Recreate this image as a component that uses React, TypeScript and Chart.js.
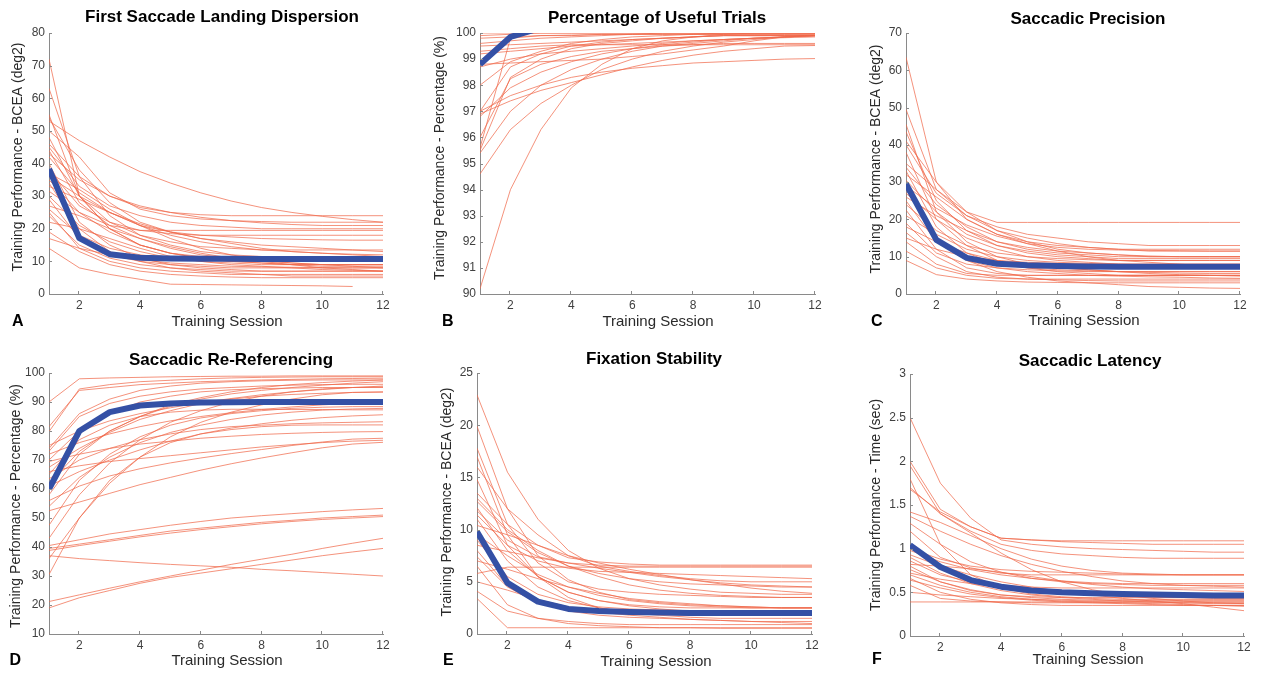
import React, { useEffect, useRef } from "react";
import { Chart, registerables } from "chart.js";

Chart.register(...registerables);
Chart.defaults.font.family = '"Liberation Sans", Arial, sans-serif';

// ---------------- DATA ----------------
const sessions = [1, 2, 3, 4, 5, 6, 7, 8, 9, 10, 11, 12];
const xTickValues = [2, 4, 6, 8, 10, 12];

// A: First Saccade Landing Dispersion (BCEA deg2)
const dispersionMean = [38.3, 17.1, 12.2, 11.1, 10.9, 10.8, 10.8, 10.7, 10.7, 10.7, 10.7, 10.7];
const dispersionSubjects: (number | null)[][] = [
  [72, 30, 20, 15, 12.5, 11, 10, 9.5, 9, 9, 9, 9],
  [63, 36, 24, 18, 15, 13, 12, 11.5, 11, 11, 11, 11],
  [55, 30, 22, 18, 16, 14.5, 14, 13.5, 13.5, 13.5, 13.5, 13.5],
  [54, 38, 28, 22, 19, 17, 16, 15, 14.5, 14, 13.5, 13],
  [53, 47, 42, 37.5, 34, 31, 28.5, 26.5, 25, 23.8, 22.8, 22],
  [50, 42, 31, 26, 24, 23, 22.5, 22.2, 22, 22, 22, 22],
  [46, 36, 30, 26.5, 25, 24.3, 24, 24, 24, 24, 24, 24],
  [45, 33, 27, 24, 22, 21, 20.5, 20, 20, 20, 20, 20],
  [44, 28, 21, 17, 14, 12, 11, 10, 9.5, 9, 9, 9],
  [42, 31, 25, 21, 19, 18, 17.5, 17, 16.8, 16.6, 16.5, 16.5],
  [40, 22, 15, 11, 9, 8, 7.5, 7, 7, 7, 7, 7],
  [38, 27, 22, 19.5, 18.5, 18, 18, 18, 18, 18, 18, 18],
  [37, 32, 26, 21, 17, 14, 12, 10.5, 9.5, 9, 8.5, 8],
  [35, 25, 19, 15, 12.5, 11, 10, 9.5, 9, 8.5, 8.5, 8.5],
  [34, 20, 13, 10, 8, 7, 6.5, 6, 6, 6, 6, 6],
  [33, 29, 25, 21.5, 19, 17, 15.5, 14, 13, 12.5, 12, 11.5],
  [31.5, 25, 21, 19.5, 19.5, 19.5, 19.5, 19.5, 19.5, 19.5, 19.5, 19.5],
  [30, 21, 16, 13, 11, 10, 9.5, 9, 9, 9, 9, 9],
  [29, 17, 12, 10, 9, 8.5, 8, 8, 8, 8, 8, 8],
  [27, 24, 20, 17, 14.5, 12.5, 11, 10, 9, 8, 7.5, 7],
  [26, 18, 14, 12, 11, 10.5, 10, 10, 10, 10, 10, 10],
  [25, 14, 10, 8, 7, 6.5, 6, 6, 5.5, 5.5, 5.5, 5.5],
  [24, 15, 11, 9, 8, 7.5, 7, 7, 7, 7, 7, 7],
  [22, 20, 17, 14, 11.5, 10, 9, 8.5, 8, 7.5, 7.3, 7],
  [19, 13, 9, 7, 6, 5.5, 5.2, 5, 5, 5, 5, 5],
  [17, 14, 12, 10.5, 9.5, 9, 8.5, 8.3, 8.2, 8.1, 8, 8],
  [14, 8, 6, 4.5, 3, 2.9, 2.8, 2.7, 2.6, 2.5, 2.3, null],
  [43, 35, 30, 27, 25, 23.5, 22.5, 21.8, 21.3, 21, 21, 21],
  [36, 30, 25, 21, 18, 16, 14.5, 13.5, 13, 12.5, 12.2, 12],
  [48, 30, 20, 15, 12.5, 11.5, 11, 10.8, 10.7, 10.6, 10.5, 10.5],
];

// B: Percentage of Useful Trials (%)
const usefulMean = [98.8, 99.85, 100.2, 100.3, 100.35, 100.4, 100.4, 100.4, 100.4, 100.4, 100.4, 100.4];
const usefulSubjects: number[][] = [
  [90.2, 94.0, 96.3, 97.9, 98.8, 99.4, 99.7, 99.85, 99.95, 100, 100, 100],
  [94.6, 96.3, 97.3, 98.0, 98.6, 99.0, 99.3, 99.5, 99.65, 99.75, 99.85, 99.9],
  [95.4, 97.0, 98.0, 98.6, 99.0, 99.3, 99.5, 99.6, 99.7, 99.8, 99.85, 99.9],
  [95.5, 98.3, 99.0, 99.4, 99.6, 99.7, 99.8, 99.85, 99.9, 99.9, 99.9, 99.9],
  [95.6, 99.8, 99.9, 99.9, 99.95, 99.95, 99.95, 99.95, 99.95, 99.95, 99.95, 99.95],
  [96.8, 97.9, 98.5, 98.9, 99.2, 99.4, 99.55, 99.65, 99.75, 99.8, 99.85, 99.9],
  [97.0, 97.6, 98.0, 98.3, 98.5, 98.65, 98.75, 98.85, 98.9, 98.95, 99.0, 99.02],
  [96.9, 97.4, 97.8, 98.1, 98.4, 98.7, 98.95, 99.15, 99.3, 99.4, 99.5, 99.52],
  [98.0, 98.9, 99.3, 99.6, 99.75, 99.85, 99.9, 99.95, 100, 100, 100, 100],
  [98.7, 99.0, 99.2, 99.3, 99.4, 99.5, 99.6, 99.7, 99.75, 99.8, 99.85, 99.9],
  [98.8, 98.85, 98.9, 98.95, 99.0, 99.1, 99.2, 99.35, 99.5, 99.7, 99.85, 99.9],
  [99.2, 99.3, 99.4, 99.5, 99.55, 99.6, 99.65, 99.7, 99.75, 99.8, 99.82, 99.85],
  [99.5, 99.55, 99.6, 99.65, 99.7, 99.75, 99.8, 99.85, 99.9, 99.9, 99.9, 99.9],
  [99.3, 99.4, 99.5, 99.55, 99.55, 99.55, 99.55, 99.55, 99.55, 99.55, 99.55, 99.55],
  [99.8, 99.85, 99.9, 99.92, 99.94, 99.95, 99.95, 99.95, 99.95, 99.95, 99.95, 99.95],
  [99.9, 99.95, 100, 100, 100, 100, 100, 100, 100, 100, 100, 100],
  [100, 100, 100, 100, 100, 100, 100, 100, 100, 100, 100, 100],
  [99.6, 99.7, 99.8, 99.85, 99.9, 99.95, 100, 100, 100, 100, 100, 100],
  [96.0, 98.25, 98.8, 99.1, 99.3, 99.4, 99.5, 99.55, 99.6, 99.6, 99.6, 99.6],
  [97.0, 98.7, 99.2, 99.5, 99.65, 99.75, 99.8, 99.85, 99.9, 99.9, 99.9, 99.9],
];

// C: Saccadic Precision (BCEA deg2)
const precisionMean = [29.5, 14.5, 9.7, 8.1, 7.7, 7.5, 7.4, 7.3, 7.3, 7.3, 7.3, 7.3];
const precisionSubjects: number[][] = [
  [63.5, 30, 20, 16, 14, 13, 12.5, 12, 12, 12, 12, 12],
  [49.5, 28, 21, 18, 16, 15, 14, 13.5, 13, 13, 13, 13],
  [45.5, 22, 14, 10, 8, 7, 6.5, 6, 5.8, 5.6, 5.5, 5.5],
  [43.5, 25, 17, 13, 11, 10, 9.5, 9, 9, 9, 9, 9],
  [40, 27, 21, 17, 15, 13.5, 12.5, 12, 11.5, 11.5, 11.5, 11.5],
  [38, 20, 13, 9, 7, 6, 5.5, 5, 5, 5, 5, 5],
  [35, 28, 22, 19.2, 19.2, 19.2, 19.2, 19.2, 19.2, 19.2, 19.2, 19.2],
  [34, 24, 18, 14, 12, 11, 10.5, 10, 10, 10, 10, 10],
  [33, 18, 11, 8, 7, 6.5, 6.2, 6, 6, 6, 6, 6],
  [32, 26, 20, 16, 13.5, 11.5, 10, 9, 8.5, 8, 7.5, 7.2],
  [30.5, 22, 16, 13, 11.5, 10.5, 10, 9.5, 9.5, 9.5, 9.5, 9.5],
  [28, 15, 9, 6, 4.5, 3.5, 3, 2.5, 2, 1.8, 1.6, 1.5],
  [27, 20, 15, 12, 10, 9, 8.5, 8, 7.8, 7.6, 7.5, 7.5],
  [26, 21, 17, 14, 12.5, 11.5, 11, 10.5, 10.2, 10, 10, 10],
  [25, 14, 9, 7, 6, 5.5, 5, 4.8, 4.6, 4.5, 4.3, 4.2],
  [24, 17, 13, 11, 10, 9.5, 9.2, 9, 9, 9, 9, 9],
  [22.5, 12, 7, 5.5, 5, 5, 5, 5, 5, 5, 5, 5],
  [21, 16, 12, 10, 9, 8.5, 8.2, 8, 8, 8, 8, 8],
  [19, 11, 8, 7, 6.5, 6.2, 6, 6, 6, 6, 6, 6],
  [18, 14, 11, 9, 8, 7, 6.5, 6, 5.5, 5.2, 5, 4.8],
  [16.5, 10, 6, 4.5, 4, 3.8, 3.6, 3.5, 3.5, 3.5, 3.5, 3.5],
  [15, 12, 10, 9, 8.5, 8.2, 8, 8, 8, 8, 8, 8],
  [14, 8, 5.5, 5, 5, 5, 5, 5, 5, 5, 5, 5],
  [11.5, 7, 5, 4.2, 4, 4, 4, 4, 4, 4, 4, 4],
  [9, 5.2, 4, 3.5, 3.2, 3.1, 3, 3, 3, 3, 3, 3],
  [29, 23, 18.5, 15.5, 13.5, 12.5, 12, 11.8, 11.7, 11.6, 11.5, 11.5],
  [41, 30, 22, 17, 14, 12, 11, 10.5, 10, 10, 10, 10],
];

// D: Saccadic Re-Referencing (%)
const rereferencingMean = [60, 80, 86.5, 88.8, 89.5, 89.8, 89.9, 90, 90, 90, 90, 90];
const rereferencingSubjects: number[][] = [
  [39.5, 41, 42.5, 44, 45.5, 46.5, 47.5, 48.5, 49.2, 50, 50.5, 51],
  [40.5, 42.5, 44.5, 46, 47.5, 48.8, 50, 50.8, 51.5, 52.2, 52.8, 53.3],
  [38.8, 40.5, 42, 43.5, 44.8, 46, 47, 48, 48.8, 49.5, 50, 50.5],
  [37, 36, 35.3, 34.6, 34, 33.5, 33, 32.3, 31.8, 31.2, 30.6, 30],
  [21.2, 23.5, 25.8, 28, 30, 32, 34, 35.8, 37.5, 39.5, 41.3, 43],
  [19, 22.5, 25, 27.5, 29.5, 31, 32.5, 34, 35.5, 37, 38.3, 39.5],
  [90, 98, 98.3, 98.5, 98.7, 98.8, 98.9, 98.9, 99, 99, 99, 99],
  [81.5, 94, 95, 96, 96.5, 97, 97.3, 97.6, 97.8, 98, 98.1, 98.2],
  [79.8, 94.5, 96, 97, 97.5, 98, 98.3, 98.5, 98.6, 98.7, 98.7, 98.7],
  [74, 86, 91, 94, 95.5, 96.5, 97, 97.3, 97.5, 97.6, 97.6, 97.6],
  [73, 85, 89.5, 92, 93.5, 94.5, 95, 95.5, 95.8, 96, 96.1, 96.1],
  [70, 80, 86, 90, 92, 93.5, 94.2, 94.6, 94.8, 95, 95, 95],
  [67.5, 74, 79.5, 84, 87, 89.5, 91, 92, 92.6, 93, 93.3, 93.4],
  [65, 77, 82, 85, 86.5, 87.2, 87.5, 87.5, 87.4, 87.4, 87.3, 87.3],
  [63.5, 70, 74, 77, 79, 80.5, 81.5, 82, 82.5, 82.8, 83, 83.2],
  [61, 66, 70, 73.5, 76.5, 79, 81, 82.5, 83.7, 84.6, 85.2, 85.6],
  [52.5, 55.5, 58.5, 61.5, 64, 66.5, 68.7, 70.7, 72.5, 74.2, 75.5, 76.1],
  [56, 61, 64.5, 67, 69, 70.7, 72.2, 73.6, 75, 76.2, 77.2, 77.5],
  [47.5, 63, 72, 78, 82, 84.5, 86, 87, 87.8, 88.2, 88.4, 88.4],
  [43, 58, 69, 77, 83, 87, 90, 92, 93.5, 94.5, 95, 95.2],
  [36, 50, 62, 71, 78, 83, 86.5, 89, 91, 92.5, 93.3, 93.5],
  [30.5, 50, 63, 71, 76, 79, 80.5, 81.5, 82, 82.1, 82.1, 82.1],
  [75, 80, 83.5, 86, 88, 89.8, 91.2, 92.5, 93.5, 94.3, 95, 95.5],
  [72, 76, 79, 81.5, 83.5, 85, 86.3, 87.4, 88.3, 89, 89.6, 90],
  [69.5, 72, 74, 75.5, 76.5, 77.5, 78.2, 78.8, 79.2, 79.5, 79.7, 79.8],
  [66, 68, 69.5, 70.5, 71.5, 72.5, 73.5, 74.5, 75.3, 76, 76.5, 76.8],
  [58, 72, 80, 85, 88.5, 91, 92.8, 94, 95, 95.8, 96.5, 97],
  [54, 64, 71, 76, 79.5, 82, 84, 85.5, 86.5, 87.2, 87.6, 87.8],
  [62, 73, 80, 85, 89, 91.5, 93.5, 95, 96, 96.7, 97.2, 97.6],
];

// E: Fixation Stability (BCEA deg2)
const stabilityMean = [9.8, 4.9, 3.1, 2.4, 2.2, 2.1, 2.05, 2.0, 2.0, 2.0, 2.0, 2.0];
const stabilitySubjects: number[][] = [
  [22.9, 15.5, 11, 8, 6.3, 5.3, 4.7, 4.3, 4, 3.9, 3.8, 3.8],
  [19.9, 12, 7.5, 5.2, 4, 3.3, 3, 2.8, 2.7, 2.6, 2.5, 2.5],
  [17.8, 10.5, 6.8, 5, 4.3, 4, 3.8, 3.7, 3.6, 3.5, 3.5, 3.5],
  [17, 9.5, 5.5, 3.5, 2.5, 2, 1.8, 1.6, 1.5, 1.5, 1.5, 1.5],
  [16, 12, 9.5, 7.5, 6.5, 6, 5.6, 5.3, 5.1, 5, 5, 5],
  [14.8, 8.5, 5.5, 4, 3.2, 2.7, 2.4, 2.2, 2.1, 2, 2, 2],
  [13.5, 10.5, 8.5, 7.3, 6.9, 6.7, 6.6, 6.6, 6.6, 6.6, 6.6, 6.6],
  [12.7, 9.8, 7.8, 6.5, 5.8, 5.3, 5, 4.8, 4.7, 4.6, 4.5, 4.5],
  [12.1, 8.0, 5.5, 4, 3.2, 2.8, 2.6, 2.5, 2.5, 2.5, 2.5, 2.5],
  [11.4, 8.5, 7, 6.3, 6, 5.9, 5.8, 5.7, 5.6, 5.5, 5.4, 5.3],
  [11, 7, 4.5, 3.2, 2.5, 2.1, 1.9, 1.8, 1.8, 1.8, 1.8, 1.8],
  [10.4, 9.5, 8.5, 7.5, 6.8, 6.2, 5.7, 5.2, 4.8, 4.4, 4.1, 3.9],
  [9.0, 5.5, 3.8, 3, 2.6, 2.4, 2.3, 2.2, 2.2, 2.2, 2.2, 2.2],
  [8.5, 7.9, 7.3, 6.8, 6.3, 5.9, 5.5, 5.2, 4.9, 4.7, 4.6, 4.5],
  [7.4, 4.5, 3, 2.2, 1.8, 1.6, 1.5, 1.4, 1.3, 1.2, 1.2, 1.2],
  [5.8, 6.4, 6.4, 6.4, 6.4, 6.4, 6.4, 6.4, 6.4, 6.4, 6.4, 6.4],
  [5.0, 4.2, 3.3, 2.6, 2.1, 1.8, 1.6, 1.4, 1.3, 1.2, 1.1, 1.0],
  [4.1, 2.2, 1.5, 1.2, 1, 0.9, 0.9, 0.9, 0.9, 0.9, 0.9, 0.9],
  [3.4, 0.6, 0.6, 0.6, 0.6, 0.6, 0.6, 0.6, 0.6, 0.6, 0.6, 0.6],
  [6.5, 2.8, 1.5, 1.0, 0.8, 0.7, 0.6, 0.6, 0.55, 0.55, 0.55, 0.55],
  [11.8, 9, 7.4, 6.8, 6.6, 6.5, 6.5, 6.5, 6.5, 6.5, 6.5, 6.5],
  [9.5, 7.5, 5.7, 4.5, 3.7, 3.2, 2.9, 2.7, 2.6, 2.5, 2.5, 2.5],
  [8.0, 4.6, 3.0, 2.4, 2.1, 2.0, 2.0, 2.0, 2.0, 2.0, 2.0, 2.0],
  [7.0, 6.2, 5.3, 4.5, 3.9, 3.4, 3.1, 2.9, 2.7, 2.6, 2.5, 2.5],
  [13, 10, 8, 6.5, 5.5, 4.7, 4.2, 3.9, 3.7, 3.6, 3.5, 3.5],
];

// F: Saccadic Latency (sec)
const latencyMean = [1.04, 0.79, 0.64, 0.565, 0.52, 0.5, 0.49, 0.48, 0.475, 0.47, 0.465, 0.465];
const latencySubjects: number[][] = [
  [2.5, 1.75, 1.35, 1.1, 1.05, 1.02, 1.0, 0.99, 0.98, 0.97, 0.96, 0.96],
  [2.0, 1.45, 1.25, 1.12, 1.1, 1.09, 1.09, 1.09, 1.09, 1.09, 1.09, 1.09],
  [1.95, 1.4, 1.2, 1.05, 0.98, 0.94, 0.92, 0.9, 0.89, 0.89, 0.89, 0.89],
  [1.8, 1.05, 0.7, 0.55, 0.48, 0.45, 0.43, 0.42, 0.42, 0.42, 0.42, 0.42],
  [1.68, 1.42, 1.25, 1.12, 1.1, 1.08, 1.07, 1.06, 1.05, 1.05, 1.05, 1.05],
  [1.42, 1.3, 1.15, 1.0, 0.88, 0.8, 0.75, 0.72, 0.71, 0.7, 0.7, 0.7],
  [1.37, 1.2, 1.05, 0.92, 0.82, 0.74, 0.68, 0.63, 0.6, 0.58, 0.57, 0.56],
  [1.7, 1.4, 1.18, 0.95, 0.76, 0.62, 0.53, 0.47, 0.43, 0.4, 0.38, 0.37],
  [1.2, 0.9, 0.78, 0.72, 0.7, 0.7, 0.7, 0.7, 0.7, 0.7, 0.7, 0.7],
  [0.98, 0.85, 0.76, 0.7, 0.66, 0.63, 0.61, 0.6, 0.6, 0.6, 0.6, 0.6],
  [0.9, 0.72, 0.6, 0.52, 0.47, 0.44, 0.42, 0.4, 0.39, 0.38, 0.37, 0.37],
  [0.82, 0.8, 0.77, 0.73, 0.68, 0.63, 0.59, 0.56, 0.54, 0.53, 0.52, 0.51],
  [0.76, 0.62, 0.53, 0.47, 0.44, 0.42, 0.41, 0.41, 0.41, 0.41, 0.41, 0.41],
  [0.7, 0.58, 0.5, 0.45, 0.42, 0.4, 0.39, 0.38, 0.37, 0.36, 0.35, 0.34],
  [0.64, 0.55, 0.48, 0.44, 0.41, 0.39, 0.38, 0.37, 0.36, 0.35, 0.35, 0.35],
  [0.58, 0.43, 0.4, 0.39, 0.38, 0.38, 0.38, 0.38, 0.38, 0.38, 0.38, 0.38],
  [0.39, 0.39, 0.39, 0.39, 0.39, 0.39, 0.39, 0.39, 0.39, 0.39, 0.39, 0.39],
  [0.5, 0.47, 0.45, 0.43, 0.42, 0.41, 0.4, 0.4, 0.4, 0.4, 0.4, 0.4],
  [0.86, 0.7, 0.62, 0.58, 0.56, 0.55, 0.55, 0.55, 0.55, 0.55, 0.55, 0.55],
  [0.93, 0.8, 0.7, 0.62, 0.56, 0.51, 0.47, 0.43, 0.4, 0.37, 0.33, 0.29],
  [1.29, 1.05, 0.85, 0.73, 0.66, 0.62, 0.6, 0.59, 0.58, 0.58, 0.58, 0.58],
  [0.72, 0.65, 0.6, 0.56, 0.52, 0.5, 0.48, 0.46, 0.45, 0.44, 0.43, 0.43],
  [0.66, 0.5, 0.42, 0.38, 0.36, 0.35, 0.35, 0.35, 0.35, 0.35, 0.35, 0.35],
  [1.0, 0.88, 0.8, 0.76, 0.74, 0.73, 0.72, 0.71, 0.7, 0.7, 0.7, 0.7],
  [0.8, 0.62, 0.52, 0.47, 0.45, 0.44, 0.44, 0.44, 0.44, 0.44, 0.44, 0.44],
];

// ---------------- STYLE / LAYOUT ----------------
const ORANGE = "rgba(240,104,74,0.72)";
const BLUE = "#3450a5";
const AXIS = "#8a8a8a";
const TICK = "#404040";
const LABEL = "#2a2a2a";
const FONT = '"Liberation Sans", Arial, sans-serif';

type PanelCfg = {
  title: string;
  yLabel: string;
  letter: string;
  min: number;
  max: number;
  step: number;
  mean: (number | null)[];
  subjects: (number | null)[][];
  meanClip?: number;
  area: [number, number, number, number];
  canvas: [number, number, number, number];
  titlePos: [number, number];
  xLabelPos: [number, number];
  yLabelPos: [number, number];
  letterPos: [number, number];
};

const panels: PanelCfg[] = [
  {
    title: "First Saccade Landing Dispersion", yLabel: "Training Performance - BCEA (deg2)", letter: "A",
    min: 0, max: 80, step: 10, mean: dispersionMean, subjects: dispersionSubjects,
    area: [49, 33, 383, 294], canvas: [0, 0, 401, 336],
    titlePos: [222, 17], xLabelPos: [227, 322], yLabelPos: [18, 157], letterPos: [12, 326],
  },
  {
    title: "Percentage of Useful Trials", yLabel: "Training Performance - Percentage (%)", letter: "B",
    min: 90, max: 100, step: 1, mean: usefulMean, subjects: usefulSubjects, meanClip: 0,
    area: [480, 33, 815, 294], canvas: [431, 0, 402, 336],
    titlePos: [657, 18], xLabelPos: [658, 322], yLabelPos: [440, 158], letterPos: [442, 326],
  },
  {
    title: "Saccadic Precision", yLabel: "Training Performance - BCEA (deg2)", letter: "C",
    min: 0, max: 70, step: 10, mean: precisionMean, subjects: precisionSubjects,
    area: [906, 33, 1240, 294], canvas: [857, 0, 405, 336],
    titlePos: [1088, 19], xLabelPos: [1084, 321], yLabelPos: [876, 159], letterPos: [871, 326],
  },
  {
    title: "Saccadic Re-Referencing", yLabel: "Training Performance - Percentage (%)", letter: "D",
    min: 10, max: 100, step: 10, mean: rereferencingMean, subjects: rereferencingSubjects,
    area: [49, 373, 383, 634], canvas: [0, 340, 401, 335],
    titlePos: [231, 360], xLabelPos: [227, 661], yLabelPos: [16, 506], letterPos: [9.5, 665],
  },
  {
    title: "Fixation Stability", yLabel: "Training Performance - BCEA (deg2)", letter: "E",
    min: 0, max: 25, step: 5, mean: stabilityMean, subjects: stabilitySubjects,
    area: [477, 373, 812, 634], canvas: [428, 340, 402, 335],
    titlePos: [654, 359], xLabelPos: [656, 662], yLabelPos: [447, 502], letterPos: [443, 665],
  },
  {
    title: "Saccadic Latency", yLabel: "Training Performance - Time (sec)", letter: "F",
    min: 0, max: 3, step: 0.5, mean: latencyMean, subjects: latencySubjects,
    area: [910, 374, 1244, 636], canvas: [861, 340, 401, 335],
    titlePos: [1090, 361], xLabelPos: [1088, 660], yLabelPos: [876, 505], letterPos: [872, 664],
  },
];

const toXY = (vals: (number | null)[]) => sessions.map((s, i) => ({ x: s, y: vals[i] }));

function Panel({ cfg }: { cfg: PanelCfg }) {
  const ref = useRef<HTMLCanvasElement>(null);

  useEffect(() => {
    if (!ref.current) return;
    const [l, t, r, b] = cfg.area;
    const [cl, ct, cw, ch] = cfg.canvas;

    const meanDs: any = {
      data: toXY(cfg.mean),
      borderColor: BLUE,
      borderWidth: 6,
      borderJoinStyle: "round",
      pointRadius: 0,
      tension: 0,
    };
    if (cfg.meanClip !== undefined) meanDs.clip = cfg.meanClip;

    const subjectDs = cfg.subjects.map((s) => ({
      data: toXY(s),
      borderColor: ORANGE,
      borderWidth: 1,
      pointRadius: 0,
      tension: 0,
      spanGaps: false,
    }));

    const textPlugin = {
      id: "panelText",
      afterDraw(chart: any) {
        const ctx = chart.ctx as CanvasRenderingContext2D;
        const area = chart.chartArea;
        const xs = chart.scales.x;
        const ys = chart.scales.y;
        ctx.save();
        ctx.strokeStyle = AXIS;
        ctx.lineWidth = 1;
        xs.ticks.forEach((tk: any) => {
          const px = Math.round(xs.getPixelForValue(tk.value)) - 0.5;
          ctx.beginPath();
          ctx.moveTo(px, area.bottom);
          ctx.lineTo(px, area.bottom - 3);
          ctx.stroke();
        });
        ys.ticks.forEach((tk: any) => {
          const py = Math.round(ys.getPixelForValue(tk.value)) + 0.5;
          ctx.beginPath();
          ctx.moveTo(area.left, py);
          ctx.lineTo(area.left + 3, py);
          ctx.stroke();
        });
        ctx.fillStyle = "#000";
        ctx.font = `bold 17px ${FONT}`;
        ctx.textAlign = "center";
        ctx.textBaseline = "middle";
        ctx.fillText(cfg.title, cfg.titlePos[0] - cl, cfg.titlePos[1] - ct);
        ctx.fillStyle = LABEL;
        ctx.font = `15px ${FONT}`;
        ctx.fillText("Training Session", cfg.xLabelPos[0] - cl, cfg.xLabelPos[1] - ct);
        ctx.font = `14px ${FONT}`;
        ctx.save();
        ctx.translate(cfg.yLabelPos[0] - cl, cfg.yLabelPos[1] - ct);
        ctx.rotate(-Math.PI / 2);
        ctx.fillText(cfg.yLabel, 0, 0);
        ctx.restore();
        ctx.fillStyle = "#000";
        ctx.font = `bold 16px ${FONT}`;
        ctx.textAlign = "left";
        ctx.textBaseline = "alphabetic";
        ctx.fillText(cfg.letter, cfg.letterPos[0] - cl, cfg.letterPos[1] - ct);
        ctx.restore();
      },
    };

    const chart = new Chart(ref.current, {
      type: "line",
      data: { datasets: [meanDs, ...subjectDs] },
      options: {
        responsive: false,
        animation: false,
        devicePixelRatio: 1,
        events: [],
        layout: { padding: { left: 0, top: t - ct, right: cl + cw - r, bottom: 0 } },
        plugins: {
          legend: { display: false },
          title: { display: false },
          tooltip: { enabled: false },
        },
        scales: {
          x: {
            type: "linear",
            position: "bottom",
            min: 1,
            max: 12,
            afterFit: (s: any) => {
              s.height = ct + ch - b;
            },
            afterBuildTicks: (s: any) => {
              s.ticks = xTickValues.map((v) => ({ value: v }));
            },
            grid: { display: false, drawTicks: false },
            border: { display: true, color: AXIS, width: 1 },
            ticks: {
              color: TICK,
              font: { family: FONT, size: 12 },
              padding: 4,
              maxRotation: 0,
              autoSkip: false,
              callback: (v: any) => String(v),
            },
          },
          y: {
            type: "linear",
            position: "left",
            min: cfg.min,
            max: cfg.max,
            afterFit: (s: any) => {
              s.width = l - cl;
            },
            grid: { display: false, drawTicks: false },
            border: { display: true, color: AXIS, width: 1 },
            ticks: {
              stepSize: cfg.step,
              color: TICK,
              font: { family: FONT, size: 12 },
              padding: 4,
              callback: (v: any) => String(Math.round(Number(v) * 100) / 100),
            },
          },
        },
      } as any,
      plugins: [textPlugin],
    });
    return () => chart.destroy();
  }, [cfg]);

  const [cl, ct, cw, ch] = cfg.canvas;
  return (
    <canvas
      ref={ref}
      width={cw}
      height={ch}
      style={{ position: "absolute", left: cl, top: ct, width: cw, height: ch }}
    />
  );
}

export default function App() {
  return (
    <div
      style={{
        position: "absolute",
        left: 0,
        top: 0,
        width: 1262,
        height: 675,
        background: "#fff",
        overflow: "hidden",
      }}
    >
      {panels.map((p) => (
        <Panel key={p.letter} cfg={p} />
      ))}
    </div>
  );
}
